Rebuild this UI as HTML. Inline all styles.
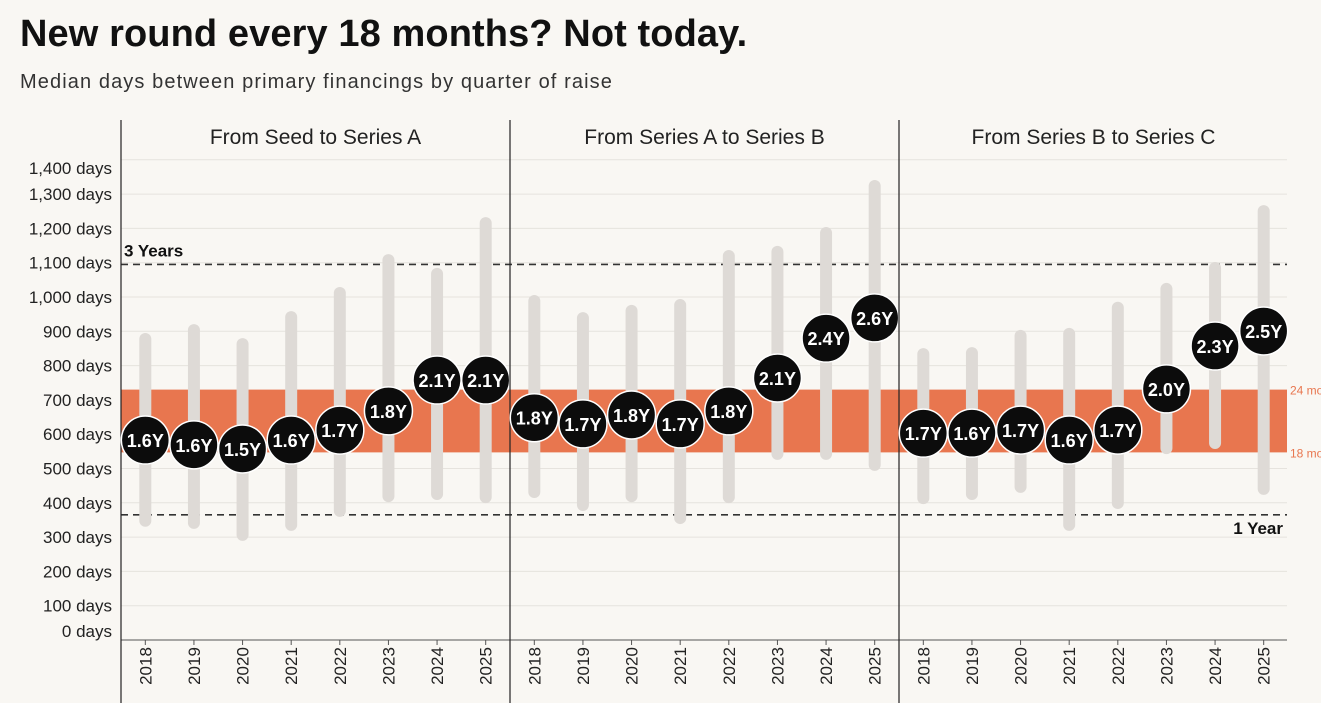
<!DOCTYPE html>
<html><head><meta charset="utf-8"><style>
body{margin:0;background:#f9f7f3;font-family:"Liberation Sans",sans-serif;}
#wrap{position:relative;width:1321px;height:703px;overflow:hidden;}
h1{position:absolute;left:20px;top:13px;margin:0;font-size:38px;font-weight:bold;color:#111;letter-spacing:0.1px}
.sub{position:absolute;left:20px;top:71px;font-size:20px;color:#333;letter-spacing:1.1px}
</style></head><body>
<div id="wrap">
<h1>New round every 18 months? Not today.</h1>
<div class="sub">Median days between primary financings by quarter of raise</div>
<svg id="svg" width="1321" height="703" style="position:absolute;left:0;top:0"></svg>
</div>
<script>
const panels=["From Seed to Series A","From Series A to Series B","From Series B to Series C"];
const years=["2018","2019","2020","2021","2022","2023","2024","2025"];
const lowDays=[[330,324,289,318,359,402,408,399],[414,376,402,338,399,525,525,493],[396,408,429,318,382,542,557,423]];
const highDays=[[895,921,880,959,1029,1125,1085,1233],[1006,956,977,994,1137,1149,1204,1341],[851,854,904,910,986,1041,1102,1268]];
const medDays=[[583,569,557,583,612,668,758,758],[648,630,656,630,668,764,880,939],[603,603,612,583,612,732,857,901]];
const medLabels=[["1.6Y","1.6Y","1.5Y","1.6Y","1.7Y","1.8Y","2.1Y","2.1Y"],["1.8Y","1.7Y","1.8Y","1.7Y","1.8Y","2.1Y","2.4Y","2.6Y"],["1.7Y","1.6Y","1.7Y","1.6Y","1.7Y","2.0Y","2.3Y","2.5Y"]];
const yTicks=[0,100,200,300,400,500,600,700,800,900,1000,1100,1200,1300,1400];
const NS="http://www.w3.org/2000/svg";const svg=document.getElementById('svg');
const X0=121,PW=389,Y0=640,K=0.343;
const y=d=>Y0-d*K;
const px=(p,i)=>X0+p*PW+PW/16+i*PW/8;
function mk(t,a,txt){const e=document.createElementNS(NS,t);for(const k in a)e.setAttribute(k,a[k]);if(txt!=null)e.textContent=txt;svg.appendChild(e);return e;}
yTicks.forEach(v=>{
 const g=mk('line',{x1:X0,x2:1287,y1:y(v),y2:y(v),stroke:'#e6e3de','stroke-width':1});
 
 let ly=y(v)+6; if(v===0)ly=y(v)-3; if(v===1400)ly=y(v)+14;
 const t=mk('text',{x:112,y:ly,'text-anchor':'end','font-size':17,fill:'#222'},v.toLocaleString('en-US')+' days');
 
});
const band=mk('rect',{x:X0,y:y(730),width:1287-X0,height:y(547)-y(730),fill:'#e8764f'});

[[730,'24 mo'],[547,'18 mo']].forEach(([d,l])=>{const t=mk('text',{x:1290,y:y(d)+5,'font-size':12,fill:'#e8764f'},l);
});
[[365,'1 Year'],[1095,'3 Years']].forEach(([d,l])=>{
 const ln=mk('line',{x1:X0,x2:1287,y1:y(d),y2:y(d),stroke:'#333','stroke-width':1.6,'stroke-dasharray':'7,5'});
 
 const t=d===365?mk('text',{x:1283,y:y(d)+19,'text-anchor':'end','font-size':17,'font-weight':'bold',fill:'#111'},l):mk('text',{x:124,y:y(d)-8,'font-size':17,'font-weight':'bold',fill:'#111'},l);
 
});
const ax=mk('line',{x1:X0,x2:1287,y1:Y0,y2:Y0,stroke:'#555','stroke-width':1});

panels.forEach((p,pi)=>{
 const sep=mk('line',{x1:X0+pi*PW,x2:X0+pi*PW,y1:120,y2:703,stroke:'#222','stroke-width':1.2});
 
 const tl=mk('text',{x:X0+pi*PW+PW/2,y:144,'text-anchor':'middle','font-size':21,fill:'#222'},p);
 
 years.forEach((yr,i)=>{
  const cx=px(pi,i);
  const r=mk('rect',{x:cx-6,y:y(highDays[pi][i]),width:12,height:y(lowDays[pi][i])-y(highDays[pi][i]),rx:6,fill:'#dedad6'});
  
  const c=mk('circle',{cx:cx,cy:y(medDays[pi][i]),r:24,fill:'#0c0c0c',stroke:'#fff','stroke-width':1.5});
  
  const t=mk('text',{x:cx,y:y(medDays[pi][i])+7,'text-anchor':'middle','font-size':18,'font-weight':'bold',fill:'#fff'},medLabels[pi][i]);
  
  const tk=mk('line',{x1:cx,x2:cx,y1:Y0,y2:Y0+5,stroke:'#555'});
  
  const yl=mk('text',{x:0,y:0,'text-anchor':'middle','font-size':17,fill:'#222',transform:`translate(${cx+6},666) rotate(-90)`},yr);
  
 });
});
</script>
</body></html>
